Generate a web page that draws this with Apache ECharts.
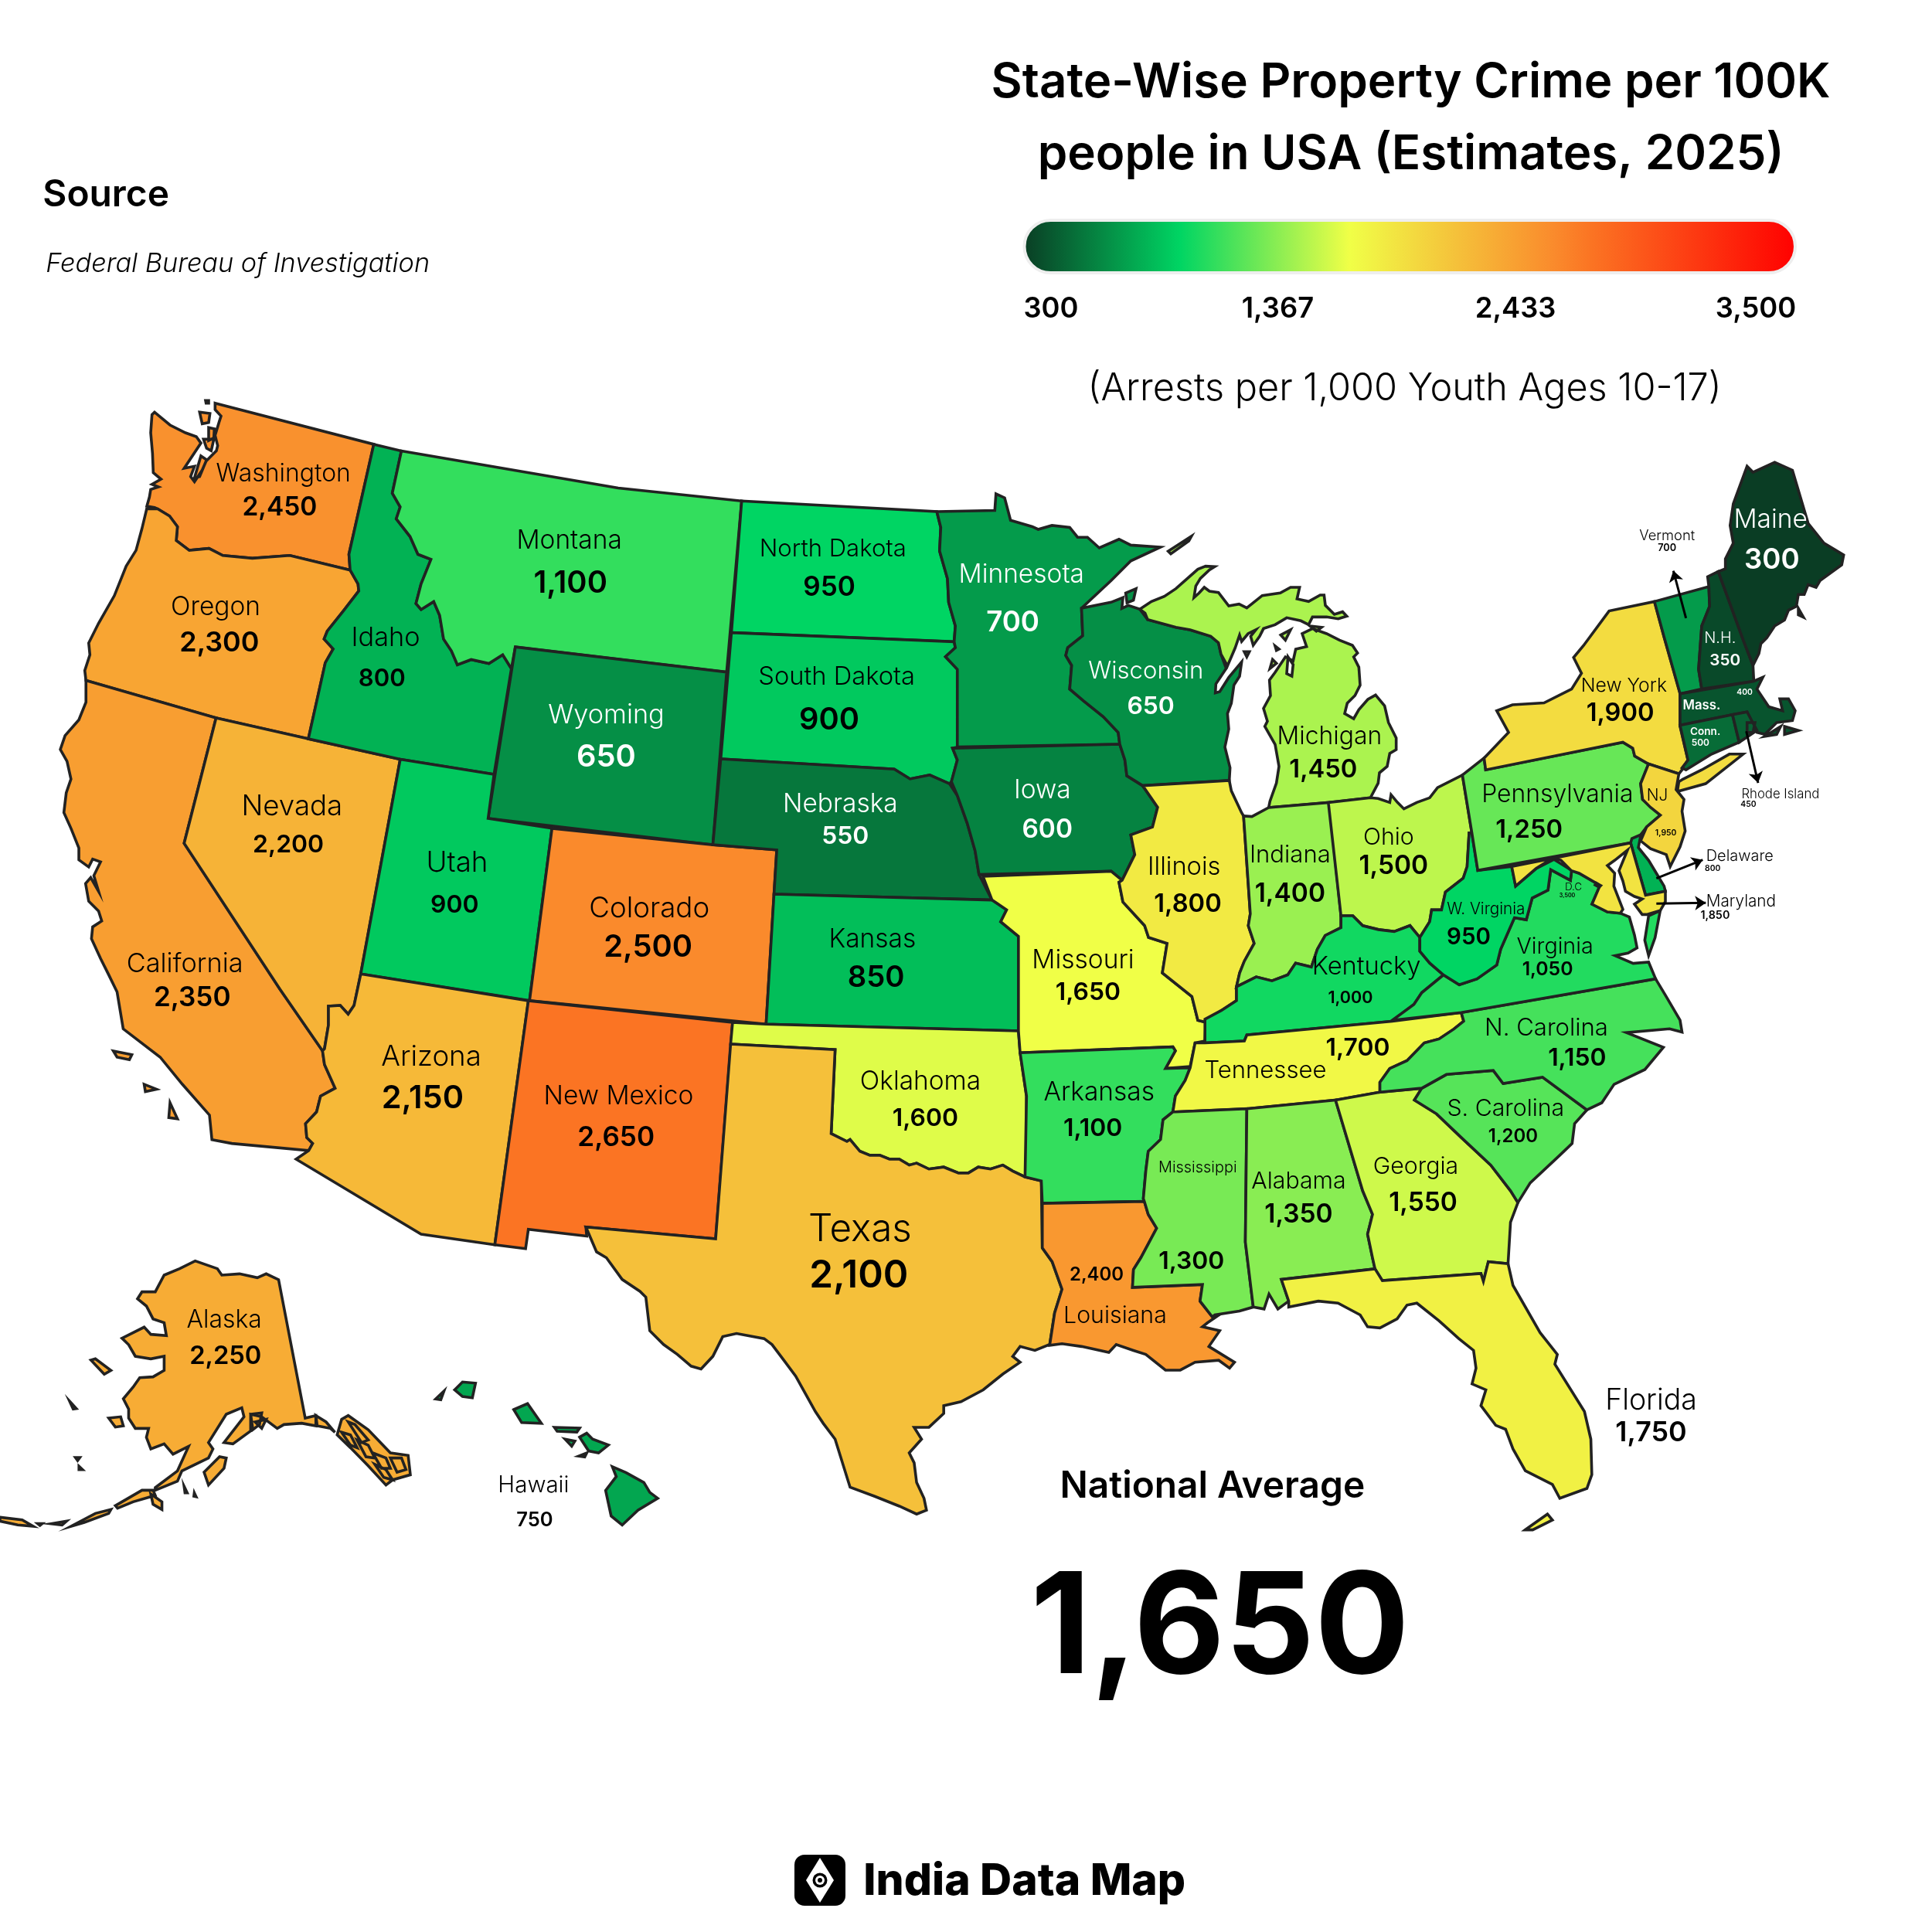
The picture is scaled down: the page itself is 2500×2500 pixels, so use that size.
<!DOCTYPE html>
<html>
<head>
<meta charset="utf-8">
<title>State-Wise Property Crime</title>
<script src="https://cdn.jsdelivr.net/npm/echarts@6/dist/echarts.min.js"></script>
<style>
html, body { margin: 0; padding: 0; background: #fff; }
#main { width: 2500px; height: 2500px; }
</style>
</head>
<body>
<div id="main"></div>
<script>
// values
const stateNames = ['Washington','Oregon','California','Nevada','Idaho','Montana','Wyoming','Utah','Colorado','Arizona','New Mexico',
  'North Dakota','South Dakota','Nebraska','Kansas','Oklahoma','Texas','Minnesota','Iowa','Missouri','Arkansas','Louisiana',
  'Wisconsin','Illinois','Michigan','Indiana','Ohio','Kentucky','Tennessee','Mississippi','Alabama','Georgia','Florida',
  'S. Carolina','N. Carolina','Virginia','W. Virginia','Pennsylvania','New York','Vermont','N.H.','Maine','Mass.','Conn.',
  'Rhode Island','NJ','Delaware','Maryland','D.C','Alaska','Hawaii'];
const stateValues = [2450,2300,2350,2200,800,1100,650,900,2500,2150,2650,
  950,900,550,850,1600,2100,700,600,1650,1100,2400,
  650,1800,1450,1400,1500,1000,1700,1300,1350,1550,1750,
  1200,1150,1050,950,1250,1900,700,350,300,400,500,
  450,1950,800,1850,3500,2250,750];
const legendTicks = ['300','1,367','2,433','3,500'];
const nationalAverage = '1,650';
const rampValues = [300,950,1650,2100,2500,2650,3500];
const rampColors = ['#0a3d24','#00d563','#f0ff47','#f5c03a','#fa8a2c','#fb7423','#ff0000'];

// outlines are traced in zoomed views of the picture: [left, top, scaleX, scaleY]
const views = {
  p: [0, 0, 0.6272, 0.6272],
  a: [0, 480, 1.96, 1.96],
  b: [800, 560, 1.96, 1.96],
  c: [1600, 560, 1.96, 1.96],
  d: [300, 1250, 1.96, 1.96],
  e: [1100, 1250, 1.568, 1.96],
  f: [0, 1600, 1.742, 3],
  g: [2000, 900, 3, 3],
  h: [1450, 680, 3, 3],
  i: [180, 500, 3, 3]
};
const outlines = {
  'Washington': ['i 295,65 a 948,186 885,465 888,505 735,468 640,475 565,468 530,450 480,455 447,430 450,395 430,368 400,350 i 60,470 30,465 40,430 45,400 75,390 50,380 85,360 55,335 52,260 45,180 50,110 60,100 120,150 180,180 222,195 240,220 175,318 215,310 200,350 215,370 245,325 260,290 300,250 305,230 295,190 310,140 318,115 295,90',
    'i 235,100 275,105 270,140 245,145', 'i 270,160 292,165 290,200 270,210', 'i 250,205 290,205 280,250 262,240', 'i 240,270 262,285 235,350 215,355', 'i 258,55 270,55 270,65 260,65'],
  'Oregon': ['a 372,350 360,400 345,455 320,495 290,570 250,640 225,690 228,720 215,760 218,785 548,880 782,933 825,740 845,705 822,680 830,660 870,610 910,558 908,540 888,505 735,468 640,475 565,468 530,450 480,455 447,430 450,395 430,368 400,350'],
  'California': ['a 218,785 548,880 467,1198 710,1568 d 230,215 235,250 262,310 225,330 215,370 187,400 190,435 205,450 195,468 0,450 p 172,925 170,905 148,880 130,858 100,835 95,805 a 275,1530 255,1490 232,1440 235,1410 258,1395 250,1370 225,1345 217,1300 230,1285 250,1320 238,1280 255,1245 235,1238 225,1258 200,1240 200,1210 180,1160 162,1120 168,1070 180,1035 170,990 153,960 165,925 200,885 218,840 218,800',
    'p 92,853 107,856 105,860 95,858', 'p 117,880 127,884 118,886', 'p 138,895 144,908 137,907'],
  'Nevada': ['a 548,880 782,933 1015,985 915,1528 d 327,20 310,100 295,122 275,100 245,102 245,150 235,210 230,215 a 710,1568 467,1198'],
  'Idaho': ['a 948,186 1018,203 995,310 1015,345 1005,375 1040,420 1060,465 1093,478 1068,540 1055,590 1068,605 1100,585 1115,620 1125,680 1145,710 1160,745 1195,732 1240,742 1275,720 1297,755 1253,1023 1015,985 782,933 825,740 845,705 822,680 830,660 870,610 910,558 908,540 888,505 885,465'],
  'Montana': ['a 1018,203 1568,297 b 313,173 275,607 a 1307,700 1297,755 1275,720 1240,742 1195,732 1160,745 1145,710 1125,680 1115,620 1100,585 1068,605 1055,590 1068,540 1093,478 1060,465 1040,420 1005,375 1015,345 995,310'],
  'Wyoming': ['a 1307,700 b 275,607 240,1045 a 1238,1135'],
  'Utah': ['a 1015,985 1253,1023 1238,1135 1400,1160 d 755,88 327,20'],
  'Colorado': ['a 1400,1160 b 240,1045 402,1058 375,1500 d 755,88'],
  'Arizona': ['d 327,20 752,88 667,707 480,680 163,490 195,468 205,450 190,435 187,400 215,370 225,330 262,310 235,250 230,215 235,210 245,150 245,102 275,100 295,122 310,100'],
  'New Mexico': ['d 752,88 1270,143 1227,692 898,662 900,685 752,668 745,717 667,707'],
  'North Dakota': ['b 313,173 808,200 818,240 815,300 835,370 838,430 855,490 852,530 287,507'],
  'South Dakota': ['b 287,507 852,530 855,545 830,568 860,600 860,797 848,800 860,830 845,885 840,890 790,868 740,878 700,853 260,827'],
  'Nebraska': ['b 260,827 700,853 740,878 790,868 840,890 860,920 885,990 905,1060 915,1120 948,1185 395,1170 402,1058 240,1045'],
  'Kansas': ['b 395,1170 948,1185 985,1210 970,1240 1015,1277 1015,1517 375,1500'],
  'Oklahoma': ['d 1270,143 b 375,1500 1015,1517 e 345,220 358,330 358,530 355,535 330,520 310,505 285,515 260,510 240,525 220,525 190,510 160,515 135,500 120,505 100,490 80,490 60,480 40,480 20,470 0,440 d 1560,445 1520,425 1530,212 1265,198'],
  'Texas': ['d 1265,198 1530,212 1520,425 1560,445 e 0,440 20,470 40,480 60,480 80,490 100,490 120,505 135,500 160,515 190,510 220,525 240,525 260,510 285,515 310,505 330,520 355,535 388,545 390,715 410,750 430,820 415,880 405,960 375,975 345,965 330,990 345,1005 310,1035 270,1075 225,1105 190,1115 190,1135 160,1170 130,1170 145,1200 120,1235 130,1260 135,1310 150,1350 155,1380 135,1390 100,1370 50,1345 0,1322 d 1530,1200 1500,1160 1480,1130 1455,1085 1430,1040 1400,1000 1370,960 1350,945 1280,932 1245,940 1220,990 1190,1022 1165,1015 1130,985 1095,960 1060,925 1050,840 1035,825 990,795 950,740 925,725 898,662 1227,692'],
  'Minnesota': ['b 808,200 955,197 958,155 980,165 995,222 1050,238 1065,245 1100,235 1145,240 1165,265 1190,265 1220,292 1270,270 1300,285 1375,290 1300,325 1250,375 1175,445 1178,515 1140,545 1135,565 1150,590 1145,650 1180,680 1230,720 1268,760 1272,790 860,797 860,600 830,568 855,545 852,530 855,490 838,430 835,370 815,300 818,240'],
  'Iowa': ['b 848,800 1272,790 1285,830 1290,870 1330,895 1368,950 1355,1000 1300,1020 1310,1070 1278,1135 1250,1112 915,1120 905,1060 885,990 860,920 845,885 860,830'],
  'Missouri': ['b 925,1125 1250,1112 1278,1135 1270,1140 1280,1190 1335,1250 1345,1280 1392,1295 1380,1370 1455,1430 1470,1490 1490,1495 e 720,190 700,195 690,255 640,260 660,215 655,205 345,220 b 1015,1517 1015,1277 970,1240 985,1210 948,1185'],
  'Arkansas': ['e 345,220 655,205 660,215 640,260 690,258 680,290 660,330 655,370 635,390 630,440 605,470 600,520 595,590 597,597 390,602 388,545 355,535 358,330'],
  'Louisiana': ['e 390,602 597,597 605,630 622,665 590,740 575,770 573,815 715,808 710,850 735,890 760,875 725,905 715,915 750,925 728,965 780,1005 770,1020 748,1000 700,1005 670,1025 640,1025 600,985 575,975 540,960 525,980 470,965 430,958 405,962 415,880 430,820 410,750 390,715'],
  'Wisconsin': ['b 1175,445 1250,430 1280,418 h 5,322 30,310 75,325 105,365 215,395 270,405 350,430 380,455 390,500 410,555 370,615 368,650 385,645 420,590 470,530 462,585 440,620 430,690 415,730 420,790 405,860 425,940 422,990 b 1330,895 1290,870 1285,830 1272,790 1268,760 1230,720 1180,680 1145,650 1150,590 1135,565 1140,545 1178,515',
    'h 20,262 60,245 50,290 25,300'],
  'Illinois': ['b 1330,895 h 422,990 430,1030 470,1115 c 18,972 35,1220 30,1250 45,1295 20,1340 8,1370 0,1405 b 1568,1440 1530,1465 1490,1495 1470,1490 1455,1430 1380,1370 1392,1295 1345,1280 1335,1250 1280,1190 1270,1140 1278,1135 1310,1070 1300,1020 1355,1000 1368,950'],
  'Michigan': ['h 575,1095 810,1075 970,1057 1000,1000 1005,960 1035,935 1045,885 1070,870 1070,825 1040,765 1025,700 990,658 960,675 925,715 905,750 870,730 880,690 910,660 930,620 925,550 905,510 920,495 900,465 850,445 800,420 745,400 705,420 722,470 680,480 670,525 640,510 600,570 578,600 582,660 555,710 570,760 560,780 600,850 615,935 605,1000 580,1070',
    'h 75,325 120,295 170,275 215,245 260,205 300,170 330,158 365,160 345,172 310,205 292,235 285,280 305,262 325,240 345,255 380,260 420,312 460,305 490,320 550,272 620,262 660,240 695,240 685,285 730,295 775,270 790,270 795,310 830,345 862,335 878,352 845,362 800,355 745,355 730,385 700,370 645,358 600,385 555,400 540,430 515,465 505,430 525,405 495,420 470,450 462,425 445,475 415,545 390,500 380,455 350,430 270,405 215,395 105,365 95,340',
    'h 185,100 275,42 265,60 195,110', 'h 735,390 780,395 760,410', 'h 650,510 670,540 665,585 645,575', 'h 622,425 660,405 640,445', 'h 600,468 615,480 605,485', 'h 590,520 605,535 580,555', 'h 480,490 500,490 490,510'],
  'Indiana': ['c 18,972 h 510,1130 575,1095 810,1075 c 265,1225 265,1255 225,1275 205,1310 190,1355 150,1345 130,1375 90,1390 50,1380 0,1405 8,1370 20,1340 45,1295 30,1250 35,1220'],
  'Ohio': ['c 233,938 h 970,1057 1000,1060 1045,1075 1050,1045 1075,1075 1100,1100 1150,1075 1200,1057 c 510,900 573,868 597,1015 590,1015 585,1100 575,1130 530,1165 520,1210 495,1210 490,1240 465,1280 440,1250 400,1265 360,1260 320,1250 295,1225 265,1225'],
  'Kentucky': ['e 720,135 720,195 800,190 805,175 1100,140 c 450,1450 470,1420 525,1375 490,1345 465,1315 465,1280 440,1250 400,1265 360,1260 320,1250 295,1225 265,1225 265,1255 225,1275 205,1310 190,1355 150,1345 130,1375 90,1390 50,1380 0,1405 b 1568,1440 1530,1465'],
  'Tennessee': ['e 700,195 720,195 800,190 805,175 1100,140 1240,118 1245,140 1225,160 1195,185 1165,195 1130,240 1095,260 1075,295 1075,320 985,340 805,362 660,370 655,370 660,330 680,290 690,258'],
  'Mississippi': ['e 660,370 805,362 802,700 818,865 790,875 740,885 735,890 710,850 715,808 573,815 575,770 590,740 622,665 605,630 597,597 595,590 600,520 605,470 630,440 635,390 655,370'],
  'Alabama': ['e 805,362 985,340 1040,570 1060,630 1050,680 1060,740 1065,768 875,795 890,850 868,870 850,832 840,870 818,865 802,700'],
  'Georgia': ['e 985,340 1075,320 1160,310 1145,340 1190,375 1240,435 1300,505 1340,570 1355,600 1340,650 1335,755 1295,750 1285,800 1280,780 1080,798 1065,768 1060,740 1050,680 1060,630 1040,570'],
  'Florida': ['e 875,795 1065,768 1080,798 1280,780 1285,800 1295,750 1335,755 1345,810 1400,930 1435,985 1430,1010 1490,1130 1503,1200 1505,1290 1495,1325 1440,1350 1425,1315 1370,1280 1345,1225 1330,1175 1310,1165 1280,1115 1290,1075 1262,1060 1270,1020 1265,975 1235,945 1195,900 1150,855 1130,860 1110,895 1075,918 1050,915 1035,885 990,855 950,850 890,865 890,850',
    'e 1370,1430 1415,1390 1425,1405 1385,1430'],
  'S. Carolina': ['e 1160,310 1210,275 1305,265 1325,298 1405,282 1495,365 1470,400 1465,450 1440,480 1380,550 1355,600 1340,570 1300,505 1240,435 1190,375 1145,340'],
  'N. Carolina': ['e 1240,118 c 1063,1385 1090,1430 1125,1490 1130,1520 p 1355,835 1320,838 1350,850 1335,868 1310,880 1300,895 e 1495,365 1405,282 1325,298 1305,265 1210,275 1160,310 1075,320 1075,295 1095,260 1130,240 1165,195 1195,185 1225,160 1245,140'],
  'Virginia': ['c 395,1490 450,1450 470,1420 525,1375 565,1400 610,1385 660,1350 670,1310 705,1230 735,1235 750,1180 790,1160 797,1108 847,1135 850,1110 g 130,690 200,730 210,740 180,810 240,840 290,845 325,860 345,930 355,980 320,1000 270,1010 340,1040 400,1035 c 1063,1385 e 1240,118',
    'g 400,855 445,835 425,940 400,1010 385,950'],
  'W. Virginia': ['c 597,1015 612,1110 698,1100 708,1150 760,1105 805,1082 850,1110 847,1135 797,1108 790,1160 750,1180 735,1235 705,1230 670,1310 660,1350 610,1385 565,1400 525,1375 490,1345 465,1315 465,1280 490,1240 495,1210 520,1210 530,1165 575,1130 585,1100 590,1015'],
  'Pennsylvania': ['c 573,868 628,825 632,855 980,785 1005,800 1010,820 1045,840 1025,890 1030,930 1075,970 1040,1000 1025,1020 1000,1040 612,1110 597,1015'],
  'New York': ['c 628,825 690,760 660,705 700,690 780,685 850,650 875,610 855,570 880,540 945,452 1060,428 1085,520 1125,660 1125,745 1145,830 1130,855 1122,865 1045,840 1010,820 1005,800 980,785 632,855',
    'c 1130,880 1180,855 1250,815 1285,815 1190,890 1118,910 1122,885'],
  'Vermont': ['c 1060,428 1198,390 1200,440 1180,490 1172,600 1180,650 1125,662 1085,520'],
  'N.H.': ['c 1198,390 1195,365 1222,352 1285,525 1310,590 1312,630 1180,650 1172,600 1180,490 1200,440'],
  'Maine': ['c 1222,352 1240,345 1240,320 1260,280 1252,235 1260,180 1295,85 1310,100 1365,75 1410,95 1450,230 1490,280 1540,310 1535,335 1480,375 1470,392 1450,385 1440,410 1425,410 1420,440 1400,450 1390,475 1365,490 1345,520 1330,535 1325,560 1310,590 1285,525',
    'c 1425,445 1438,468 1425,462'],
  'Mass.': ['c 1125,662 1312,630 1335,620 1320,650 1350,695 1385,705 1378,675 1400,675 1417,705 1410,730 1370,735 1340,765 1320,760 1295,708 1258,715 1125,742',
    'c 1390,745 1425,755 1390,765', 'c 1340,770 1380,745 1370,765'],
  'Conn.': ['c 1125,742 1258,715 1275,785 1205,815 1140,855 1130,850 1145,830'],
  'Rhode Island': ['c 1258,715 1295,708 1320,755 1275,785', 'c 1295,735 1315,735 1310,760 1295,760'],
  'NJ': ['c 1045,840 1122,865 1115,905 1135,930 1130,960 1138,1010 1125,1050 1100,1100 1090,1070 1050,1055 1025,1035 1040,1000 1075,970 1050,950 1030,930 1025,890'],
  'Delaware': ['g 330,572 335,555 370,540 360,590 400,640 430,690 460,740 465,760 388,775'],
  'Maryland': ['c 698,1100 g 330,572 388,775 465,760 465,800 445,835 395,850 375,850 345,810 375,790 345,780 310,760 300,720 285,680 318,600 268,640 240,660 268,690 265,740 300,830 290,845 240,840 180,810 210,740 200,730 130,690 100,680 60,640 30,630 c 760,1105 708,1150'],
  'D.C': ['g 196,728 214,738 208,744 192,735'],
  'Alaska': ['f 628,168 688,705 712,695 712,735 680,725 640,730 625,745 590,700 565,690 565,755 525,805 505,800 550,700 545,665 510,690 470,800 480,825 470,860 410,910 400,950 350,985 350,975 400,910 425,815 390,845 370,805 340,825 330,780 335,745 305,745 290,705 290,670 278,630 300,585 315,548 345,545 370,520 370,465 340,475 305,465 290,420 275,395 325,352 340,380 375,385 370,335 345,320 330,270 310,242 320,215 350,215 370,150 405,125 440,95 490,125 500,150 540,145 580,160 600,145',
    'f 712,695 735,720 755,760 745,745 715,735', 'f 770,710 785,695 830,750 880,840 920,850 925,925 885,945 870,965 830,890 790,820 760,770',
    'f 785,720 800,730 830,790 815,800', 'f 805,790 830,810 845,860 825,855', 'f 840,840 870,860 880,900 860,900', 'f 880,860 905,860 915,905 895,915', 'f 770,760 790,770 805,820 790,810', 'f 845,885 870,905 885,945 865,935',
    'f 565,690 590,685 585,730 570,750', 'f 575,720 600,710 590,745',
    'f 260,1045 320,985 345,985 350,1005 300,1030 265,1055', 'f 340,1000 365,1030 365,1060 345,1040', 'f 160,1125 215,1075 250,1060 245,1075 190,1110', 'f 0,1090 50,1100 75,1125 40,1120 0,1105', 'f 115,1115 150,1105 140,1120', 'f 85,1115 95,1115 90,1122',
    'f 460,915 495,855 510,860 505,900 470,965', 'f 205,480 215,475 250,520 235,535', 'f 245,705 272,700 278,735 260,740', 'f 157,640 172,668 165,670', 'f 415,970 422,995 417,995', 'f 438,995 442,1010 437,1008', 'f 170,858 180,858 175,870', 'f 178,892 186,905 178,905'],
  'Hawaii': ['d 965,1270 1000,1285 1045,1310 1060,1335 1080,1350 1030,1380 990,1418 962,1395 948,1330 975,1295', 'd 565,1075 585,1055 618,1058 610,1095 585,1092', 'd 517,1098 538,1078 530,1100',
    'd 715,1125 750,1110 785,1160 735,1158', 'd 818,1170 882,1172 875,1182 825,1180', 'd 845,1200 870,1205 862,1218', 'd 882,1195 900,1185 915,1200 955,1215 930,1235 905,1230', 'd 880,1243 900,1235 895,1245']
};

// label spots per state, on the 1568 wide picture: [nameX, nameY, nameSize, valueX, valueY, valueSize]
const labelSpots = {
  'Washington': [230,384,20, 227,411,21], 'Oregon': [175,492,21, 178,521,22.5], 'California': [150,782,21.5, 156,809,22],
  'Nevada': [237,654,23, 234,685,20], 'Idaho': [313,517,21.5, 310,550,19.5], 'Montana': [462,438,21, 463,473,25],
  'Wyoming': [492,580,21.5, 492,614,25], 'Utah': [371,700,23, 369,734,20], 'Colorado': [527,737,23, 526,768,25],
  'Arizona': [350,857,23, 343,891,26], 'New Mexico': [502,889,21, 500,923,22], 'North Dakota': [676,445,19.5, 673,476,22],
  'South Dakota': [679,549,20.5, 673,584,25], 'Nebraska': [682,652,21, 686,678,20], 'Kansas': [708,762,21, 711,793,24],
  'Oklahoma': [747,877,21, 751,907,20], 'Texas': [698,997,31, 697,1035,31], 'Minnesota': [829,466,21, 822,505,23],
  'Iowa': [846,641,21, 850,673,21], 'Missouri': [879,779,21, 883,805,20], 'Arkansas': [892,886,21, 887,915,20],
  'Louisiana': [905,1067,19, 890,1034,15], 'Wisconsin': [930,544,19.5, 934,573,20], 'Illinois': [961,703,20.5, 964,733,20.5],
  'Michigan': [1079,597,20, 1074,624,20.5], 'Indiana': [1047,693,19.5, 1047,725,21], 'Ohio': [1127,679,19, 1131,702,21],
  'Kentucky': [1109,784,20.5, 1096,809,13.5], 'Tennessee': [1027,868,19.5, 1102,850,20], 'Mississippi': [972,947,12.5, 967,1023,20],
  'Alabama': [1054,958,19, 1054,985,21], 'Georgia': [1149,946,19, 1155,976,21], 'Florida': [1340,1136,23.5, 1340,1162,22.5],
  'S. Carolina': [1222,899,19, 1228,922,15], 'N. Carolina': [1255,834,19.5, 1280,858,20], 'Virginia': [1262,768,18, 1256,786,15.5],
  'W. Virginia': [1206,737,13, 1192,760,18.5], 'Pennsylvania': [1264,644,20, 1241,673,20.5], 'New York': [1318,556,15.5, 1315,578,20.5],
  'Vermont': [1353,434,11.5, 1353,444,8], 'N.H.': [1396,517,12.5, 1400,535,13], 'Maine': [1437,421,21, 1438,454,23],
  'Mass.': [1381,572,10.5, 1416,561,6.5], 'Conn.': [1384,593,8.5, 1380,602,7.5], 'Rhode Island': [1445,644,10.5, 1419,652,6.5],
  'NJ': [1345,645,13, 1352,675,6.5], 'Delaware': [1412,694,12.5, 1390,704,6.5], 'Maryland': [1413,731,13, 1392,742,9],
  'D.C': [1277,719,8.5, 1272,726,4.5], 'Alaska': [182,1071,20, 183,1100,20.5], 'Hawaii': [433,1205,18.5, 434,1233,16]
};
const lightLabels = ['Minnesota','Wisconsin','Wyoming','Nebraska','Iowa','Maine','N.H.','Mass.','Conn.'];
const leaderLines = ['c 1140,470 1108,350', 'c 1293,757 1323,888', 'g 430,710 610,638', 'g 430,808 622,805'];

const S = 2500 / 1568;
const FONT = 'Inter, "Noto Sans", sans-serif';

function trace(path) {
  let view = null;
  const pts = [];
  path.trim().split(/\s+/).forEach(function (tok) {
    if (views[tok]) { view = views[tok]; return; }
    const xy = tok.split(',').map(Number);
    pts.push([view[0] + xy[0] / view[2], -(view[1] + xy[1] / view[3])]);
  });
  return pts;
}

const features = stateNames.map(function (name) {
  return {
    type: 'Feature',
    properties: { name: name },
    geometry: {
      type: 'MultiPolygon',
      coordinates: outlines[name].map(function (path) {
        const ring = trace(path);
        ring.push(ring[0]);
        return [ring];
      })
    }
  };
});
echarts.registerMap('usa', { type: 'FeatureCollection', features: features });

// colour scale, the stops are not evenly spaced so sample it every 50
function rampAt(v) {
  let i = 0;
  while (i < rampValues.length - 2 && v > rampValues[i + 1]) i++;
  const t = (v - rampValues[i]) / (rampValues[i + 1] - rampValues[i]);
  return echarts.color.lerp(t, [rampColors[i], rampColors[i + 1]]);
}
const sampled = [];
for (let v = 300; v <= 3500; v += 50) sampled.push(rampAt(v));

const nameItems = [], valueItems = [];
stateNames.forEach(function (name, i) {
  const s = labelSpots[name];
  const color = lightLabels.indexOf(name) >= 0 ? '#fff' : '#000';
  nameItems.push({ name: name, value: [s[0] * S, -(s[1] + 0.8) * S], label: { formatter: name, fontSize: s[2] * S, color: color, fontWeight: (name === 'Mass.' || name === 'Conn.') ? 600 : 300 } });
  valueItems.push({ name: name, value: [s[3] * S, -(s[4] + 0.8) * S], label: { formatter: stateValues[i].toLocaleString('en-US'), fontSize: s[5] * S, color: color, fontWeight: 600 } });
});

function textAt(x, y, text, size, weight, extra) {
  return {
    type: 'text', x: x * S, y: (y + 1.5) * S, silent: true,
    style: Object.assign({ text: text, fontFamily: FONT, fontSize: size * S, fontWeight: weight, fill: '#000', align: 'center', verticalAlign: 'middle' }, extra || {})
  };
}

const tickSpots = [853, 1037, 1230, 1425];

const option = {
  backgroundColor: '#fff',
  animation: false,
  textStyle: { fontFamily: FONT },
  visualMap: {
    show: false, type: 'continuous', min: 300, max: 3500, seriesIndex: 0,
    inRange: { color: sampled }
  },
  geo: {
    map: 'usa', roam: false, silent: true,
    boundingCoords: [[0, 0], [2500, -2500]],
    left: 0, top: 0, width: 2500, height: 2500, aspectScale: 1,
    itemStyle: { borderColor: '#222', borderWidth: 3.6, areaColor: '#fff' },
    label: { show: false }
  },
  series: [
    { type: 'map', geoIndex: 0, data: stateNames.map(function (n, i) { return { name: n, value: stateValues[i] }; }) },
    {
      type: 'lines', coordinateSystem: 'geo', silent: true, z: 4,
      symbol: ['none', 'arrow'], symbolSize: 14,
      lineStyle: { color: '#000', width: 3, opacity: 1, curveness: 0 },
      data: leaderLines.map(function (p) { return { coords: trace(p) }; })
    },
    {
      type: 'scatter', coordinateSystem: 'geo', silent: true, symbolSize: 0, z: 5, data: nameItems,
      itemStyle: { opacity: 1 },
      label: { show: true, position: 'inside', align: 'center', verticalAlign: 'middle', fontFamily: FONT }
    },
    {
      type: 'scatter', coordinateSystem: 'geo', silent: true, symbolSize: 0, z: 5, data: valueItems,
      itemStyle: { opacity: 1 },
      label: { show: true, position: 'inside', align: 'center', verticalAlign: 'middle', fontFamily: FONT }
    }
  ],
  graphic: [
    textAt(1145, 66, 'State-Wise Property Crime per 100K', 38.8, 600),
    textAt(1145, 124, 'people in USA (Estimates, 2025)', 38.8, 600),
    textAt(86, 157, 'Source', 30, 600),
    textAt(193, 212.5, 'Federal Bureau of Investigation', 21.5, 300, { fontStyle: 'italic' }),
    {
      type: 'rect', silent: true,
      shape: { x: 1325.5, y: 285, width: 997.5, height: 68, r: 34 },
      style: {
        stroke: '#eee', lineWidth: 4,
        fill: new echarts.graphic.LinearGradient(0, 0, 1, 0, rampValues.map(function (v, i) {
          return { offset: (v - 300) / 3200, color: rampColors[i] };
        }))
      }
    }
  ].concat(legendTicks.map(function (t, i) { return textAt(tickSpots[i], 249.5, t, 22.8, 600); })).concat([
    textAt(1140, 314, '(Arrests per 1,000 Youth Ages 10-17)', 30.5, 300),
    textAt(984, 1205, 'National Average', 30, 600),
    textAt(990, 1322, nationalAverage, 114, 700),
    { type: 'rect', silent: true, shape: { x: 1028, y: 2400, width: 66, height: 66, r: 13 }, style: { fill: '#000' } },
    { type: 'polygon', silent: true, shape: { points: [[1061, 2404], [1079, 2433], [1061, 2462], [1043, 2433]] }, style: { fill: '#fff' } },
    { type: 'circle', silent: true, shape: { cx: 1061, cy: 2433, r: 9.5 }, style: { fill: '#000' } },
    { type: 'circle', silent: true, shape: { cx: 1061, cy: 2433, r: 6 }, style: { fill: '#fff' } },
    { type: 'circle', silent: true, shape: { cx: 1061, cy: 2433, r: 3 }, style: { fill: '#000' } },
    textAt(831.5, 1525.5, 'India Data Map', 35.7, 800)
  ])
};

const chart = echarts.init(document.getElementById('main'));
chart.setOption(option);
</script>
</body>
</html>
